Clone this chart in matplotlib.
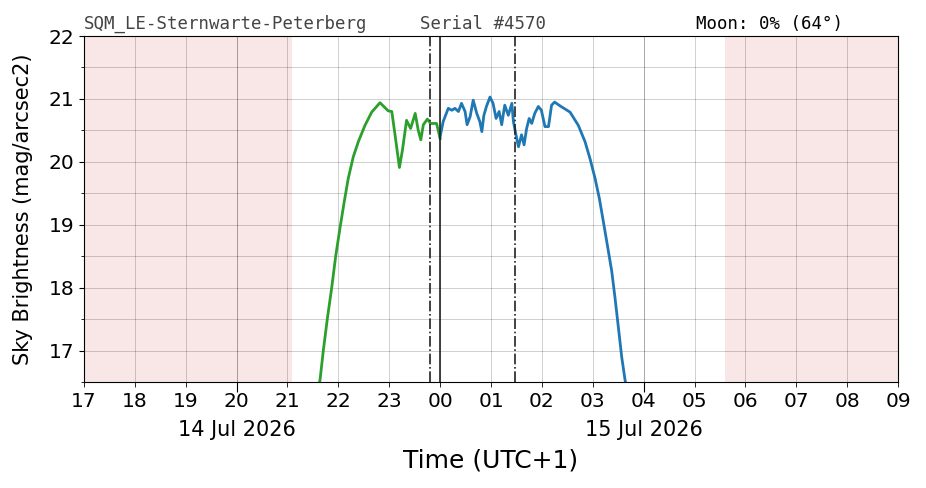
"""
Sky brightness night plot (SQM) for one night, 14/15 Jul 2026.
"""

import datetime as dt
import matplotlib
matplotlib.use("Agg")
import matplotlib.pyplot as plt
import matplotlib.dates as mdates
from matplotlib.ticker import MultipleLocator, NullFormatter


# ========= DATA (hours after 14 Jul 17:00, mag/arcsec2) =========
EVE_HOURS = [4.60, 4.639, 4.704, 4.782, 4.869, 4.947, 5.032, 5.116, 5.195, 5.293,
             5.392, 5.523, 5.655, 5.818, 5.917, 5.98, 6.05, 6.11, 6.20, 6.26,
             6.34, 6.42, 6.51, 6.57, 6.62, 6.67, 6.75, 6.81, 6.88, 6.93, 7.00]
EVE_MAG   = [16.40, 16.53, 17.00, 17.50, 18.00, 18.50, 18.95, 19.37, 19.74, 20.08,
             20.32, 20.58, 20.79, 20.94, 20.86, 20.81, 20.80, 20.45, 19.91, 20.19,
             20.66, 20.53, 20.77, 20.50, 20.35, 20.59, 20.68, 20.61, 20.61, 20.61, 20.37]

MORN_HOURS = [7.00, 7.06, 7.16, 7.23, 7.29, 7.36, 7.42, 7.49, 7.53, 7.59, 7.65,
              7.72, 7.78, 7.82, 7.86, 7.91, 7.98, 8.04, 8.10, 8.16, 8.21, 8.27,
              8.34, 8.41, 8.44, 8.49, 8.54, 8.60, 8.65, 8.70, 8.75, 8.80, 8.86,
              8.93, 8.99, 9.06, 9.13, 9.19, 9.25, 9.356, 9.553, 9.716, 9.848, 9.946,
              10.044, 10.129, 10.208, 10.286, 10.373, 10.437, 10.503, 10.570, 10.635, 10.67]
MORN_MAG   = [20.40, 20.64, 20.85, 20.82, 20.85, 20.80, 20.93, 20.80, 20.59, 20.72, 20.98,
              20.77, 20.64, 20.48, 20.74, 20.88, 21.03, 20.93, 20.69, 20.80, 20.59, 20.90,
              20.74, 20.93, 20.64, 20.43, 20.24, 20.43, 20.27, 20.53, 20.69, 20.61, 20.77,
              20.88, 20.82, 20.56, 20.56, 20.90, 20.95, 20.89, 20.79, 20.58, 20.32, 20.05,
              19.74, 19.42, 19.05, 18.68, 18.26, 17.84, 17.37, 16.89, 16.53, 16.40]

SUN_DOWN_END   = 4.09    # twilight shading ends (h after 17:00)
SUN_UP_START   = 12.60   # twilight shading starts
MOON_SET       = 6.80    # dash-dot lines
MOON_RISE      = 8.47
MIDNIGHT       = 7.00

SITE   = "SQM_LE-Sternwarte-Peterberg"
SERIAL = "Serial #4570"
MOON   = "Moon: 0% (64°)"
DATE_LABELS = [(3, "14 Jul 2026"), (11, "15 Jul 2026")]
# =================================================================

T0 = dt.datetime(2026, 7, 14, 17, 0)


def to_time(h):
    return T0 + dt.timedelta(hours=h)


def main():
    fig = plt.figure(figsize=(9.26, 4.88), dpi=100)
    ax = fig.add_axes([0.0907, 0.2172, 0.8791, 0.7090])

    # twilight / day shading
    ax.axvspan(to_time(0), to_time(SUN_DOWN_END), color="#e8a0a0", alpha=0.25, lw=0)
    ax.axvspan(to_time(SUN_UP_START), to_time(16), color="#e8a0a0", alpha=0.25, lw=0)

    ax.plot([to_time(h) for h in EVE_HOURS], EVE_MAG, color="#2ca02c", lw=2)
    ax.plot([to_time(h) for h in MORN_HOURS], MORN_MAG, color="#1f77b4", lw=2)

    ax.axvline(to_time(MOON_SET), color="#222222", lw=1.2, ls="-.")
    ax.axvline(to_time(MOON_RISE), color="#222222", lw=1.2, ls="-.")
    ax.axvline(to_time(MIDNIGHT), color="#222222", lw=1.2, ls="-")

    ax.set_xlim(to_time(0), to_time(16))
    ax.set_ylim(16.5, 22)
    ax.yaxis.set_major_locator(MultipleLocator(1))
    ax.yaxis.set_minor_locator(MultipleLocator(0.5))

    # hour ticks labelled as minor, date ticks (longer) as major
    ax.xaxis.remove_overlapping_locs = False
    ax.xaxis.set_major_locator(mdates.HourLocator(byhour=[20, 4]))
    ax.xaxis.set_major_formatter(NullFormatter())
    ax.xaxis.set_minor_locator(mdates.HourLocator())
    ax.xaxis.set_minor_formatter(mdates.DateFormatter("%H"))
    ax.tick_params(axis="x", which="major", length=7)
    ax.tick_params(axis="x", which="minor", length=3.5, labelsize=14.5)
    ax.tick_params(axis="y", labelsize=14.5)

    ax.grid(True, which="both", color="k", alpha=0.22, lw=0.6)
    ax.set_ylabel("Sky Brightness (mag/arcsec2)", fontsize=15)
    ax.yaxis.set_label_coords(-0.063, 0.5)
    ax.set_xlabel("Time (UTC+1)", fontsize=18)
    ax.xaxis.set_label_coords(0.5, -0.192)

    # date labels under the hour ticks
    for h, txt in DATE_LABELS:
        ax.text(to_time(h), -0.139, txt, transform=ax.get_xaxis_transform(),
                ha="center", va="center", fontsize=15)

    fig.text(0.0907, 0.951, SITE, family="DejaVu Sans Mono", fontsize=12.5,
             color="#444444", va="center")
    fig.text(0.4536, 0.951, SERIAL, family="DejaVu Sans Mono", fontsize=12.5,
             color="#444444", va="center")
    fig.text(0.7516, 0.951, MOON, family="DejaVu Sans Mono", fontsize=12.5,
             color="black", va="center")

    fig.savefig("out.png", dpi=100)


if __name__ == "__main__":
    main()
